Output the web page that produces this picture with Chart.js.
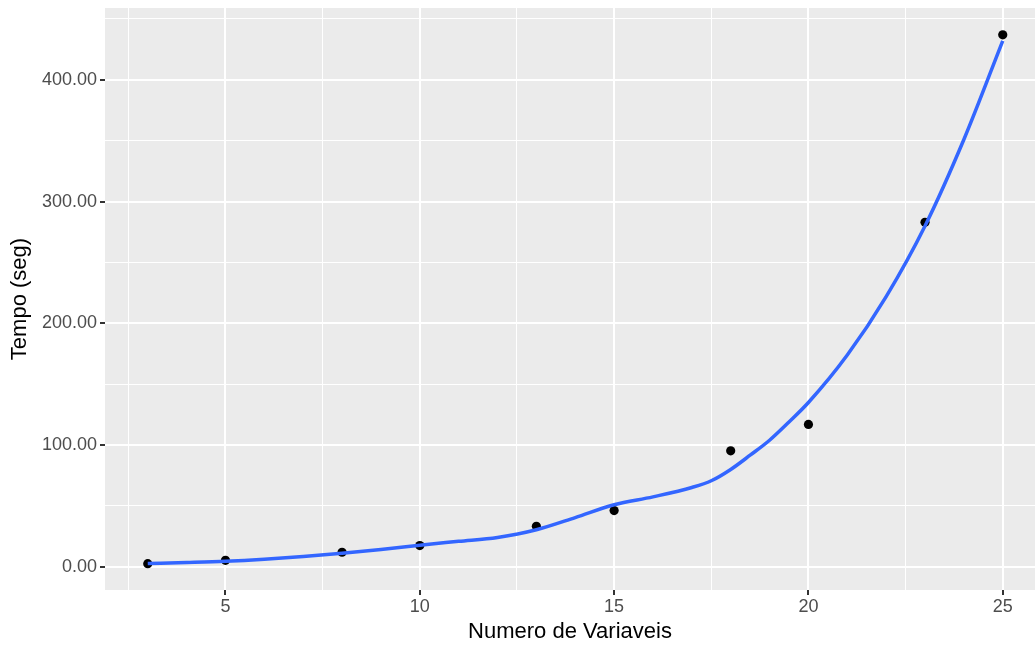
<!DOCTYPE html>
<html>
<head>
<meta charset="utf-8">
<script src="https://cdn.jsdelivr.net/npm/chart.js@4/dist/chart.umd.min.js"></script>
<style>
  body { margin: 0; background: #ffffff; }
  #wrap { width: 1035px; height: 646px; }
</style>
</head>
<body>
<div id="wrap"><canvas id="tempoChart" width="1035" height="646"></canvas></div>
<script>
// observed points
var numVars = [3, 5, 8, 10, 13, 15, 18, 20, 23, 25];
var tempo = [2.6, 5.4, 12.0, 17.5, 33.3, 46.2, 95.3, 117.0, 283.0, 437.0];

// smoothed curve
var smoothX = [3, 4, 5, 6, 7, 8, 9, 10, 11, 12, 13, 14, 15, 16, 17, 17.5, 18, 18.5, 19, 19.5, 20, 21, 22, 23, 24, 25];
var smoothY = [2.8, 3.6, 4.6, 6.3, 8.6, 11.2, 14.3, 17.8, 21.0, 24.2, 30.5, 40.5, 51.0, 57.5, 65.2, 70.7, 80.0, 91.7, 104.0, 119.0, 135.0, 174.0, 222.0, 280.0, 351.0, 432.0];

// axis ticks (major + minor gridlines)
var xTicks = [2.5, 5, 7.5, 10, 12.5, 15, 17.5, 20, 22.5, 25];
var yTicks = [0, 50, 100, 150, 200, 250, 300, 350, 400, 450];

var panelBg = {
    id: 'panelBg',
    beforeDraw: function(chart) {
        var a = chart.chartArea;
        var c = chart.ctx;
        c.save();
        c.fillStyle = '#EBEBEB';
        c.fillRect(a.left, a.top, a.right - a.left, a.bottom - a.top);
        c.restore();
    }
};

function isMajorX(v) { return v % 5 === 0; }
function isMajorY(v) { return v % 100 === 0; }

var ctx = document.getElementById('tempoChart').getContext('2d');
var chart = new Chart(ctx, {
    type: 'scatter',
    data: {
        datasets: [{
            label: 'smooth',
            data: smoothX.map(function(x, i) { return { x: x, y: smoothY[i] }; }),
            showLine: true,
            borderColor: '#3366FF',
            borderWidth: 3.5,
            pointRadius: 0,
            cubicInterpolationMode: 'monotone',
            fill: false
        }, {
            label: 'pontos',
            data: numVars.map(function(x, i) { return { x: x, y: tempo[i] }; }),
            backgroundColor: '#000000',
            borderColor: '#000000',
            pointRadius: 4.6,
            borderWidth: 0
        }]
    },
    options: {
        responsive: false,
        animation: false,
        layout: { autoPadding: false, padding: { top: 8, right: 0, left: 0, bottom: 0 } },
        plugins: { legend: { display: false }, tooltip: { enabled: false } },
        scales: {
            x: {
                type: 'linear',
                min: 1.9,
                max: 25.83,
                afterBuildTicks: function(scale) {
                    scale.ticks = xTicks.map(function(v) { return { value: v }; });
                },
                afterFit: function(scale) {
                    scale.height = 56;
                    scale.paddingLeft = 0;
                    scale.paddingRight = 0;
                },
                border: { display: false },
                grid: {
                    color: '#FFFFFF',
                    lineWidth: function(c) { return isMajorX(c.tick.value) ? 2 : 1; },
                    tickLength: 5,
                    tickWidth: 2,
                    tickColor: function(c) { return isMajorX(c.tick.value) ? '#333333' : 'rgba(0,0,0,0)'; }
                },
                ticks: {
                    autoSkip: false,
                    maxRotation: 0,
                    padding: 1,
                    color: '#4D4D4D',
                    font: { family: 'Liberation Sans', size: 18 },
                    callback: function(v) { return isMajorX(v) ? String(v) : ''; }
                },
                title: {
                    display: true,
                    text: 'Numero de Variaveis',
                    color: '#000000',
                    font: { family: 'Liberation Sans', size: 22 },
                    padding: { top: 0, bottom: 1 }
                }
            },
            y: {
                type: 'linear',
                min: -19,
                max: 459,
                afterBuildTicks: function(scale) {
                    scale.ticks = yTicks.map(function(v) { return { value: v }; });
                },
                afterFit: function(scale) {
                    scale.width = 105;
                    scale.paddingTop = 0;
                    scale.paddingBottom = 0;
                },
                border: { display: false },
                grid: {
                    color: '#FFFFFF',
                    lineWidth: function(c) { return isMajorY(c.tick.value) ? 2 : 1; },
                    tickLength: 5,
                    tickWidth: 2,
                    tickColor: function(c) { return isMajorY(c.tick.value) ? '#333333' : 'rgba(0,0,0,0)'; }
                },
                ticks: {
                    autoSkip: false,
                    padding: 3,
                    color: '#4D4D4D',
                    font: { family: 'Liberation Sans', size: 18 },
                    callback: function(v) { return isMajorY(v) ? v.toFixed(2) : ''; }
                },
                title: {
                    display: true,
                    text: 'Tempo (seg)',
                    color: '#000000',
                    font: { family: 'Liberation Sans', size: 22 },
                    padding: { top: 7, bottom: 0 }
                }
            }
        }
    },
    plugins: [panelBg]
});
</script>
</body>
</html>
